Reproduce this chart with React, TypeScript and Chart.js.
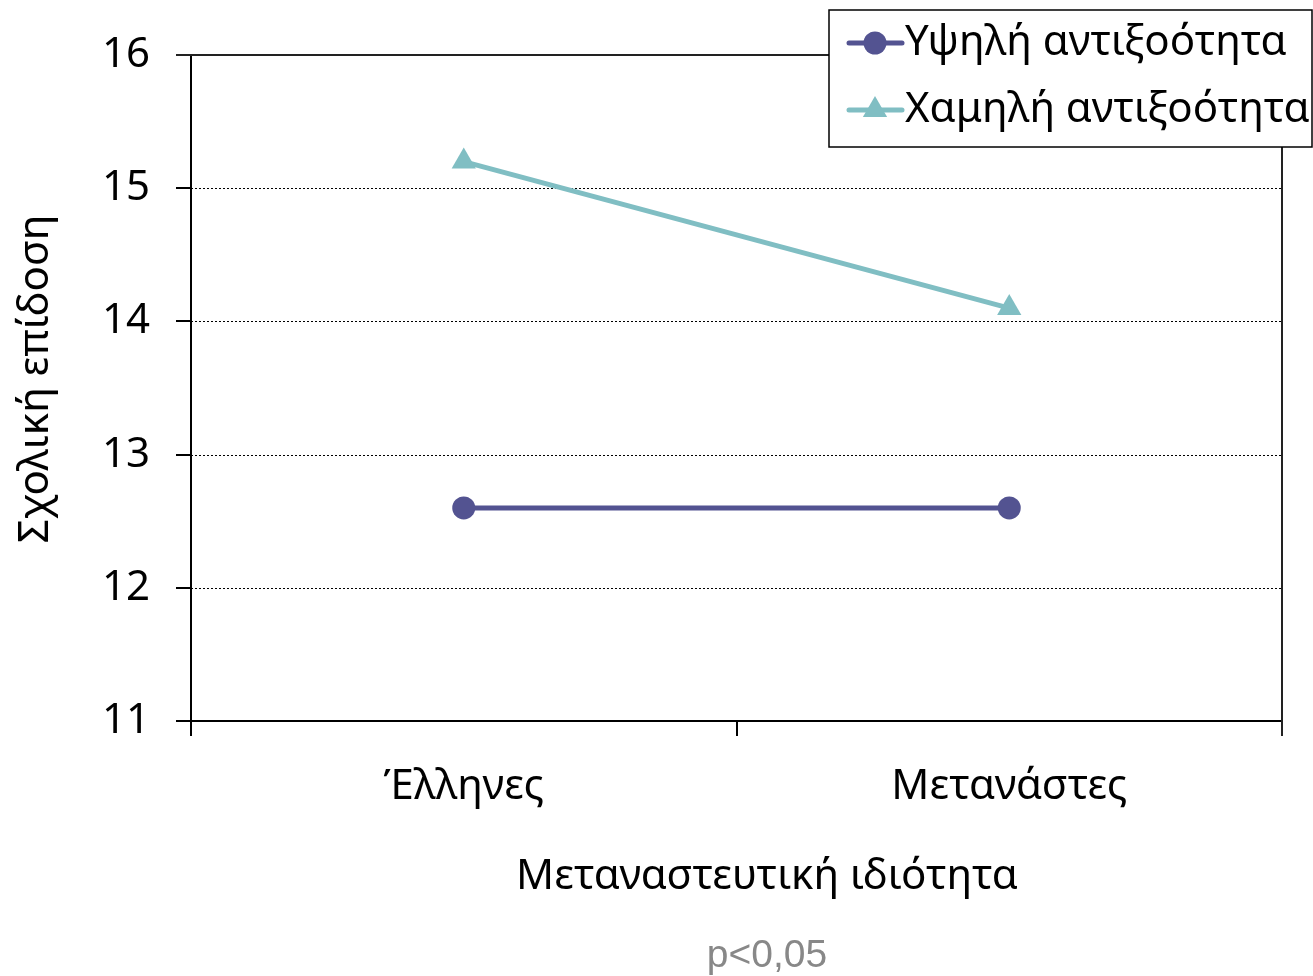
import React, { useEffect, useRef } from "react";
import { Chart, registerables } from "chart.js";

Chart.register(...registerables);

const categories = ["Έλληνες", "Μετανάστες"];
const seriesNames = ["Υψηλή αντιξοότητα", "Χαμηλή αντιξοότητα"];
const highAdversity = [12.6, 12.6];
const lowAdversity = [15.2, 14.1];
const yTickValues = [11, 12, 13, 14, 15, 16];
const xTitle = "Μεταναστευτική ιδιότητα";
const yTitle = "Σχολική επίδοση";
const note = "p<0,05";

const W = 1313;
const H = 976;
const FONT = "'Noto Sans', 'Open Sans', sans-serif";
const HIGH_COLOR = "#535391";
const LOW_COLOR = "#80BEC3";

function drawMarker(ctx: CanvasRenderingContext2D, style: string, x: number, y: number, r: number, color: string) {
  ctx.fillStyle = color;
  ctx.beginPath();
  if (style === "triangle") {
    let rad = 0;
    ctx.moveTo(x + Math.sin(rad) * r, y - Math.cos(rad) * r);
    rad += (2 * Math.PI) / 3;
    ctx.lineTo(x + Math.sin(rad) * r, y - Math.cos(rad) * r);
    rad += (2 * Math.PI) / 3;
    ctx.lineTo(x + Math.sin(rad) * r, y - Math.cos(rad) * r);
    ctx.closePath();
  } else {
    ctx.arc(x, y, r, 0, Math.PI * 2);
  }
  ctx.fill();
}

const overlay = {
  id: "overlay",
  beforeDatasetsDraw(chart: any) {
    const { ctx, chartArea: a, scales } = chart;
    const y = scales.y;
    ctx.save();
    ctx.strokeStyle = "#000";
    ctx.lineWidth = 1;
    ctx.setLineDash([2, 2]);
    for (const v of yTickValues) {
      if (v > y.min && v < y.max) {
        const py = Math.round(y.getPixelForValue(v)) + 0.5;
        ctx.beginPath();
        ctx.moveTo(a.left, py);
        ctx.lineTo(a.right, py);
        ctx.stroke();
      }
    }
    ctx.setLineDash([]);
    ctx.strokeStyle = "#222";
    ctx.lineWidth = 2;
    ctx.beginPath();
    ctx.moveTo(a.left - 15, a.top);
    ctx.lineTo(a.right, a.top);
    ctx.lineTo(a.right, a.bottom + 15);
    ctx.stroke();
    ctx.restore();
  },
  afterDraw(chart: any) {
    const { ctx } = chart;
    ctx.save();
    ctx.fillStyle = "#000";
    ctx.font = `42px ${FONT}`;
    ctx.textAlign = "center";
    ctx.textBaseline = "middle";
    ctx.fillText(xTitle, 767, 877);
    ctx.save();
    ctx.translate(36, 379);
    ctx.rotate(-Math.PI / 2);
    ctx.fillText(yTitle, 0, 0);
    ctx.restore();
    ctx.fillStyle = "#888";
    ctx.font = `39px 'Liberation Sans', Arial, sans-serif`;
    ctx.fillText(note, 767, 956);

    const bx = 829, by = 10, bw = 483, bh = 137;
    ctx.fillStyle = "#fff";
    ctx.fillRect(bx, by, bw, bh);
    ctx.strokeStyle = "#000";
    ctx.lineWidth = 1.5;
    ctx.strokeRect(bx, by, bw, bh);
    const rows = [43, 110];
    chart.data.datasets.forEach((ds: any, i: number) => {
      const ry = rows[i];
      ctx.strokeStyle = ds.borderColor;
      ctx.lineWidth = 5;
      ctx.lineCap = "round";
      ctx.beginPath();
      ctx.moveTo(849, ry);
      ctx.lineTo(902, ry);
      ctx.stroke();
      drawMarker(ctx, ds.pointStyle, 875, ry, ds.pointRadius, ds.pointBackgroundColor);
      ctx.fillStyle = "#000";
      ctx.font = `42px ${FONT}`;
      ctx.textAlign = "left";
      ctx.textBaseline = "middle";
      ctx.fillText(ds.label, 905, ry);
    });
    ctx.restore();
  },
};

export default function App() {
  const ref = useRef<HTMLCanvasElement>(null);
  useEffect(() => {
    if (!ref.current) return;
    const chart = new Chart(ref.current, {
      type: "line",
      data: {
        labels: categories,
        datasets: [
          {
            label: seriesNames[0],
            data: highAdversity,
            borderColor: HIGH_COLOR,
            backgroundColor: HIGH_COLOR,
            pointBackgroundColor: HIGH_COLOR,
            pointBorderColor: HIGH_COLOR,
            pointStyle: "circle",
            pointRadius: 11.5,
            borderWidth: 5,
            pointBorderWidth: 0,
          },
          {
            label: seriesNames[1],
            data: lowAdversity,
            borderColor: LOW_COLOR,
            backgroundColor: LOW_COLOR,
            pointBackgroundColor: LOW_COLOR,
            pointBorderColor: LOW_COLOR,
            pointStyle: "triangle",
            pointRadius: 14,
            borderWidth: 5,
            pointBorderWidth: 0,
          },
        ],
      },
      options: {
        animation: false,
        responsive: false,
        layout: { padding: { left: 0, top: 55, right: 31, bottom: 0 } },
        plugins: { legend: { display: false }, tooltip: { enabled: false } },
        scales: {
          x: {
            type: "category",
            offset: true,
            grid: {
              offset: true,
              drawOnChartArea: false,
              drawTicks: true,
              tickLength: 15,
              lineWidth: 2,
              color: "#000",
            },
            border: { display: true, color: "#000", width: 2 },
            ticks: {
              color: "#000",
              font: { family: FONT, size: 42 },
              padding: 26,
            },
            afterFit: (s: any) => {
              s.height = 255;
            },
          },
          y: {
            min: 11,
            max: 16,
            afterBuildTicks: (s: any) => {
              s.ticks = yTickValues.map((v) => ({ value: v }));
            },
            grid: {
              drawOnChartArea: false,
              drawTicks: true,
              tickLength: 15,
              lineWidth: 2,
              color: "#000",
            },
            border: { display: true, color: "#000", width: 2 },
            ticks: {
              color: "#000",
              font: { family: FONT, size: 42 },
              padding: 26,
            },
            afterFit: (s: any) => {
              s.width = 191;
            },
          },
        },
      },
      plugins: [overlay],
    });
    return () => chart.destroy();
  }, []);
  return (
    <div style={{ position: "absolute", left: 0, top: 0, width: W, height: H, background: "#fff" }}>
      <canvas ref={ref} width={W} height={H} style={{ display: "block", width: W, height: H }} />
    </div>
  );
}
